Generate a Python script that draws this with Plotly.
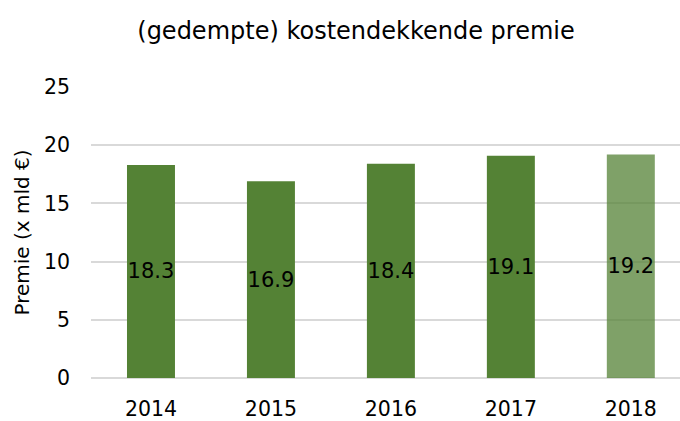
import plotly.graph_objects as go

years = ["2014", "2015", "2016", "2017", "2018"]
values = [18.3, 16.9, 18.4, 19.1, 19.2]
labels = ["18.3", "16.9", "18.4", "19.1", "19.2"]
colors = ["#548235", "#548235", "#548235", "#548235", "rgba(84,130,53,0.75)"]

FONT = "DejaVu Sans"

fig = go.Figure(go.Bar(
    x=years, y=values, text=labels,
    textposition="inside", insidetextanchor="middle", textangle=0,
    constraintext="none",
    textfont=dict(family=FONT, size=21, color="black"),
    marker=dict(color=colors, line=dict(width=0)),
    width=0.4,
    cliponaxis=False,
))

fig.update_layout(
    width=680, height=421,
    margin=dict(l=91, r=0, t=87, b=43),
    paper_bgcolor="white", plot_bgcolor="white",
    showlegend=False,
    uniformtext=dict(mode=False),
    title=dict(text="(gedempte) kostendekkende premie", x=(137 + 575) / 2 / 680, xanchor="center",
               y=1 - 31 / 421, yanchor="middle",
               font=dict(family=FONT, size=24, color="black")),
    font=dict(family=FONT, size=20, color="black"),
)
fig.update_xaxes(
    type="category", range=[-0.5, 4.41], showgrid=False, showline=False,
    ticks="", ticklabelstandoff=16,
    tickfont=dict(family=FONT, size=20.5, color="black"),
)
fig.update_yaxes(
    range=[0, 25], tickvals=[0, 5, 10, 15, 20, 25],
    showgrid=True, gridcolor="#d9d9d9", gridwidth=1.5,
    zeroline=True, zerolinecolor="#d9d9d9", zerolinewidth=1.5,
    showline=False, ticks="", ticklabelstandoff=20,
    tickfont=dict(family=FONT, size=20.5, color="black"),
    title=dict(text="Premie (x mld €)", standoff=8,
               font=dict(family=FONT, size=20, color="black")),
)

fig.write_html("out.html")
